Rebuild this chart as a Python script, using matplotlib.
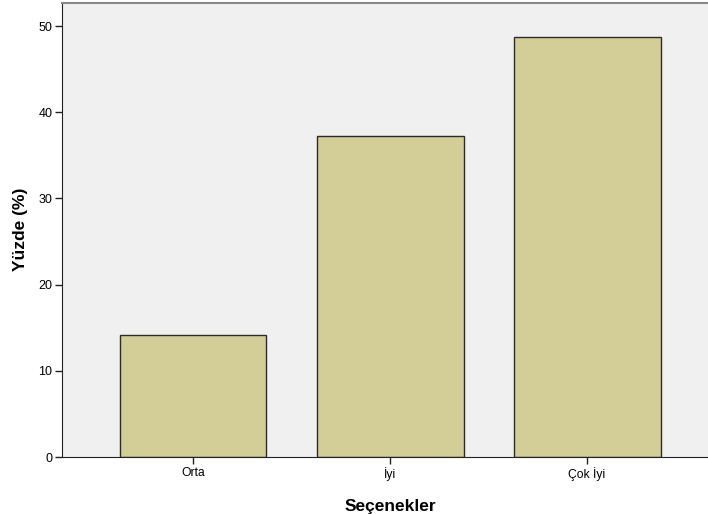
import matplotlib
matplotlib.use("Agg")
import matplotlib.pyplot as plt

categories = ["Orta", "İyi", "Çok İyi"]
percentages = [14.1, 37.2, 48.7]
y_ticks = [0, 10, 20, 30, 40, 50]

plt.rcParams['font.family'] = ['Liberation Sans', 'DejaVu Sans']

fig = plt.figure(figsize=(7.08, 5.14), dpi=100)
ax = fig.add_axes([62/708, 57/514, 646/708, 454/514])
ax.set_facecolor("#F0F0F0")

x = list(range(len(categories)))
ax.bar(x, percentages, width=0.746, color="#D3CE97", edgecolor="#2b2b2b", linewidth=1.0, zorder=2)

ax.set_xlim(-0.665, 2.614)
ax.set_ylim(0, 52.67)
ax.set_xticks(x)
ax.set_xticklabels(categories, fontsize=8.7)
ax.set_yticks(y_ticks)
ax.set_yticklabels([str(t) for t in y_ticks], fontsize=9)
ax.tick_params(axis="both", length=5, width=1, color="#222222", pad=2)

ax.spines["right"].set_visible(False)
ax.spines["top"].set_color("#888888")
ax.spines["top"].set_linewidth(1.5)
ax.spines["left"].set_color("#222222")
ax.spines["bottom"].set_color("#222222")

ax.set_xlabel("Seçenekler", fontsize=12.5, fontweight="bold")
ax.set_ylabel("Yüzde (%)", fontsize=12.5, fontweight="bold")
ax.xaxis.set_label_coords(0.508, -0.0925)
ax.yaxis.set_label_coords(-0.0526, 0.502)

fig.savefig("out.png", dpi=100)
